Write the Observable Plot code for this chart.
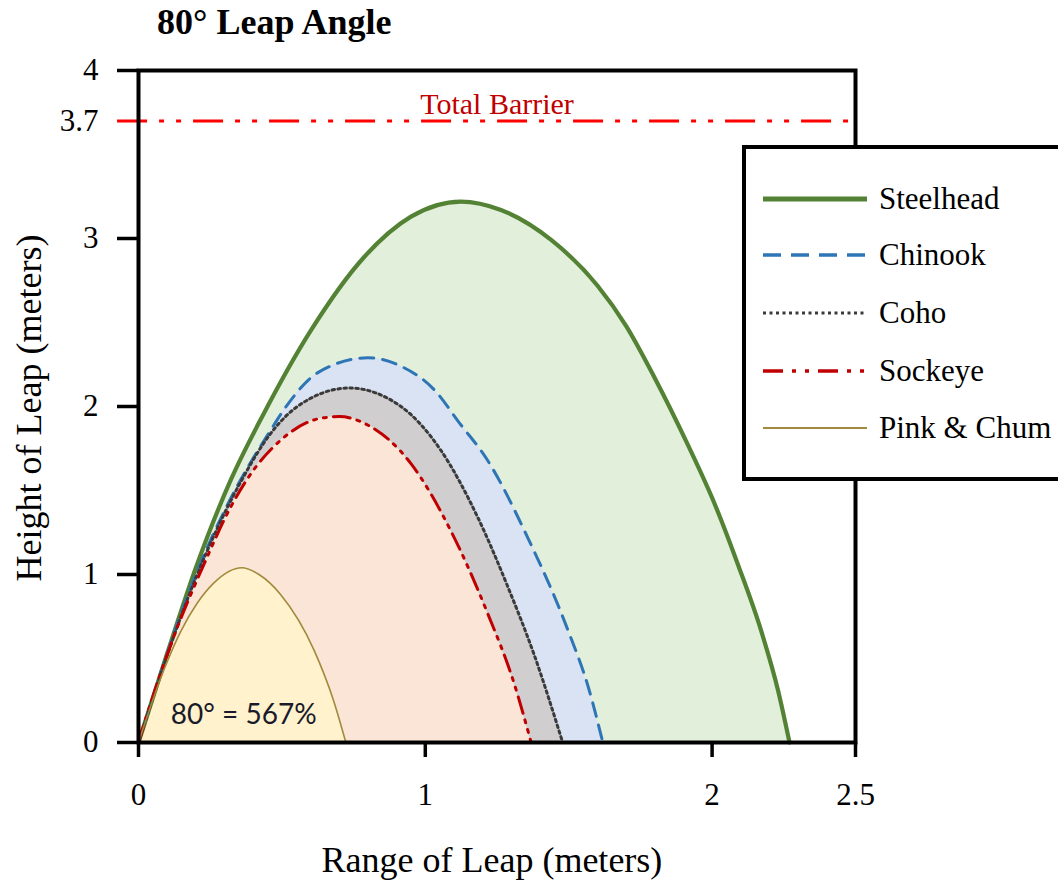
<!DOCTYPE html>
<html>
<head>
<meta charset="utf-8">
<script src="https://cdn.jsdelivr.net/npm/d3@7"></script>
<script src="https://cdn.jsdelivr.net/npm/@observablehq/plot@0.6"></script>
<style>
  html, body { margin: 0; padding: 0; background: #fff; }
  #wrap { position: relative; width: 1058px; height: 884px; overflow: hidden; background: #fff; font-family: "Liberation Serif", "Times New Roman", serif; }
  #title { position: absolute; left: 157px; top: 2px; font-weight: bold; font-size: 36px; line-height: 40px; color: #000; white-space: nowrap; }
  #chart { position: absolute; left: 0; top: 48px; }
  #legend { position: absolute; left: 742px; top: 145px; width: 340px; height: 328px; border: 4px solid #000; background: #fff; }
  .row { position: absolute; left: 0; height: 40px; display: flex; align-items: center; }
  .row svg { display: block; }
  .row span { font-size: 31px; color: #000; margin-left: 12px; white-space: nowrap; }
  .axislabel { position: absolute; font-size: 36px; color: #000; white-space: nowrap; transform-origin: center center; }
</style>
</head>
<body>
<div id="wrap">
  <div id="title"></div>
  <div id="chart"></div>
  <div id="xlabel" class="axislabel"></div>
  <div id="ylabel" class="axislabel"></div>
  <div id="legend"></div>
</div>
<script>
// ---- data ----
const titleText = "80° Leap Angle";
const species = ["Steelhead", "Chinook", "Coho", "Sockeye", "Pink & Chum"];

const steelheadX = [0, 0.10, 0.20, 0.321, 0.4375, 0.60, 0.787, 0.95, 1.124, 1.264, 1.44, 1.60, 1.70, 1.80, 1.916, 2.009, 2.09, 2.172, 2.23, 2.27];
const steelheadY = [0, 0.53, 1.04, 1.56, 1.96, 2.45, 2.89, 3.13, 3.22, 3.17, 2.99, 2.72, 2.48, 2.17, 1.77, 1.42, 1.06, 0.66, 0.31, 0];

const chinookX = [0, 0.10, 0.20, 0.30, 0.461, 0.519, 0.624, 0.80, 0.915, 1.031, 1.12, 1.217, 1.357, 1.497, 1.57, 1.619];
const chinookY = [0, 0.53, 1.00, 1.38, 1.86, 2.01, 2.20, 2.29, 2.24, 2.10, 1.90, 1.68, 1.22, 0.67, 0.32, 0];

const cohoX = [0, 0.10, 0.20, 0.356, 0.461, 0.554, 0.735, 0.915, 1.054, 1.183, 1.287, 1.38, 1.479];
const cohoY = [0, 0.52, 0.98, 1.55, 1.84, 2.00, 2.11, 2.00, 1.74, 1.34, 0.93, 0.52, 0];

const sockeyeX = [0, 0.042, 0.123, 0.228, 0.321, 0.38, 0.496, 0.635, 0.70, 0.799, 0.95, 1.089, 1.217, 1.31, 1.369];
const sockeyeY = [0, 0.23, 0.63, 1.06, 1.40, 1.57, 1.80, 1.93, 1.94, 1.89, 1.66, 1.26, 0.77, 0.35, 0];

const pinkX = [0, 0.088, 0.147, 0.205, 0.263, 0.36, 0.42, 0.496, 0.612, 0.68, 0.723];
const pinkY = [0, 0.43, 0.66, 0.83, 0.95, 1.04, 1.00, 0.88, 0.55, 0.25, 0];

const barrierHeight = 3.7;
const barrierLabel = "Total Barrier";
const angleNote = "80° = 567%";
const xTicks = [0, 1, 2, 2.5];
const yTicks = [0, 1, 2, 3, 4];
const yExtraTicks = [3.7];
const xLabel = "Range of Leap (meters)";
const yLabel = "Height of Leap (meters)";

// ---- styles ----
const styles = {
  "Steelhead":   {stroke: "#548235", fill: "#e2efda", width: 4.2, dash: null,            legendWidth: 5,   legendDash: null},
  "Chinook":     {stroke: "#2e75b6", fill: "#dae3f3", width: 3,   dash: "14 9",          legendWidth: 3.5, legendDash: "18 10"},
  "Coho":        {stroke: "#3a3a3a", fill: "#d0cece", width: 3,   dash: "2.5 3.5",       legendWidth: 3,   legendDash: "3 3.5"},
  "Sockeye":     {stroke: "#c00000", fill: "#fbe5d6", width: 3,   dash: "17 7 3 7 3 7",  legendWidth: 3.5, legendDash: "20 9 4 9 4 9"},
  "Pink & Chum": {stroke: "#a08a3c", fill: "#fff2cc", width: 1.6, dash: null,            legendWidth: 2,   legendDash: null}
};

document.getElementById("title").textContent = titleText;

const xs = [steelheadX, chinookX, cohoX, sockeyeX, pinkX];
const ys = [steelheadY, chinookY, cohoY, sockeyeY, pinkY];
const series = species.map((name, i) => ({name, data: xs[i].map((x, j) => ({x, y: ys[i][j]}))}));

const curve = "monotone-x";
const marks = [];
for (const s of series) {
  const st = styles[s.name];
  marks.push(Plot.areaY(s.data, {x: "x", y: "y", fill: st.fill, curve}));
}
for (const s of series) {
  const st = styles[s.name];
  marks.push(Plot.line(s.data, {x: "x", y: "y", stroke: st.stroke, strokeWidth: st.width, strokeDasharray: st.dash, curve}));
}

marks.push(
  Plot.ruleY([barrierHeight], {x1: -0.073, x2: 2.5, stroke: "#ff0000", strokeWidth: 3, strokeDasharray: "30 12 5 12 5 12"}),
  Plot.text([barrierLabel], {text: d => d, x: 1.25, y: barrierHeight, dy: -7, lineAnchor: "bottom", fill: "#c00000", fontSize: 30, fontFamily: "Liberation Serif"}),
  Plot.text([angleNote], {text: d => d, x: 0.367, y: 0, dy: -19, lineAnchor: "bottom", fill: "#1a1a2a", fontSize: 28, fontFamily: "Lato"}),
  Plot.frame({stroke: "#000", strokeWidth: 4}),
  Plot.axisY(yTicks, {tickSize: 21, tickPadding: 19, strokeWidth: 3.5, fontSize: 31, label: null, tickFormat: d => String(d)}),
  Plot.axisY(yExtraTicks, {tickSize: 0, tickPadding: 40, fontSize: 31, label: null, tickFormat: d => String(d)}),
  Plot.axisX(xTicks, {tickSize: 15, tickPadding: 25, strokeWidth: 3.5, fontSize: 31, label: null, tickFormat: d => String(d)})
);

const chart = Plot.plot({
  width: 1058,
  height: 836,
  marginLeft: 138,
  marginRight: 203,
  marginTop: 22,
  marginBottom: 142,
  x: {domain: [0, 2.5], axis: null},
  y: {domain: [0, 4], axis: null},
  style: {fontFamily: "Liberation Serif", fontSize: "31px", color: "#000", background: "#fff", overflow: "visible"},
  marks
});
document.getElementById("chart").appendChild(chart);

// ---- axis titles ----
function placeLabel(id, text, cx, cy, rot) {
  const el = document.getElementById(id);
  el.textContent = text;
  const w = el.offsetWidth, h = el.offsetHeight;
  el.style.left = (cx - w / 2) + "px";
  el.style.top = (cy - h / 2) + "px";
  if (rot) el.style.transform = `rotate(${rot}deg)`;
}
placeLabel("xlabel", xLabel, 492, 860, 0);
placeLabel("ylabel", yLabel, 29, 408, -90);

// ---- legend ----
const legend = document.getElementById("legend");
const rowCenters = [50, 106, 164, 222, 279];
species.forEach((name, i) => {
  const st = styles[name];
  const row = document.createElement("div");
  row.className = "row";
  row.style.top = (rowCenters[i] - 20) + "px";
  row.style.left = "17px";
  const svg = d3.create("svg").attr("width", 104).attr("height", 40);
  svg.append("line").attr("x1", 0).attr("x2", 104).attr("y1", 20).attr("y2", 20)
    .attr("stroke", st.stroke).attr("stroke-width", st.legendWidth)
    .attr("stroke-dasharray", st.legendDash);
  row.appendChild(svg.node());
  const label = document.createElement("span");
  label.textContent = name;
  row.appendChild(label);
  legend.appendChild(row);
});
</script>
</body>
</html>
